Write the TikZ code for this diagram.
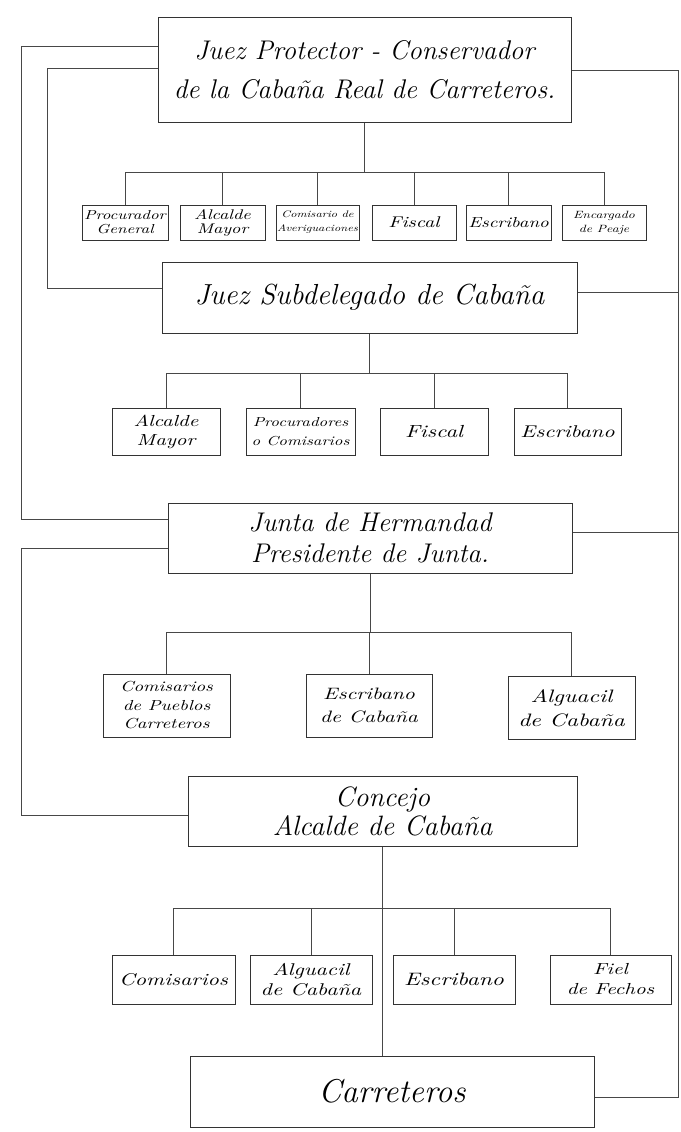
\documentclass[tikz,border=0pt]{standalone}
\usepackage{fontspec}
\newfontfamily\hs{lmroman10-italic}[Extension=.otf,FakeStretch=1.3]
\newcommand{\fs}[2]{\fontsize{#1}{#2}\selectfont}
\begin{document}
\begin{tikzpicture}[x=1pt,y=-1pt,
  bx/.style={draw=black!80,line width=1pt,fill=white,align=center,inner sep=1pt},
  ln/.style={draw=black!72,line width=0.8pt}]
\useasboundingbox[fill=white] (0,0) rectangle (680,1132);

% main boxes
\node[bx,font=\itshape\fs{27}{39},minimum width=413,minimum height=104] (B1) at (364.5,70)
  {Juez Protector - Conservador\\de la Cabaña Real de Carreteros.};
\node[bx,font=\itshape\fs{29}{30},minimum width=415,minimum height=71] (B2) at (369.5,297.5)
  {Juez Subdelegado de Cabaña};
\node[bx,font=\itshape\fs{27}{31},minimum width=404,minimum height=70] (B3) at (370,538)
  {Junta de Hermandad\\Presidente de Junta.};
\node[bx,font=\itshape\fs{28}{29},minimum width=389,minimum height=70] (B4) at (382.5,811)
  {Concejo\\Alcalde de Cabaña};
\node[bx,font=\itshape\fs{33}{36},minimum width=404,minimum height=71] (B5) at (392,1091.5)
  {Carreteros};

% row 1
\node[bx,font=\hs\fs{13}{14},minimum width=86,minimum height=35] (a1) at (125,222.5) {Procurador\\General};
\node[bx,font=\hs\fs{14}{14},minimum width=85,minimum height=35] (a2) at (222.5,222.5) {Alcalde\\Mayor};
\node[bx,font=\hs\fs{9.5}{14},minimum width=83,minimum height=35] (a3) at (317.5,222.5) {Comisario de\\Averiguaciones};
\node[bx,font=\hs\fs{15.5}{15},minimum width=84,minimum height=35] (a4) at (414,222.5) {Fiscal};
\node[bx,font=\hs\fs{14.5}{14},minimum width=85,minimum height=35] (a5) at (508.5,222.5) {Escribano};
\node[bx,font=\hs\fs{10.5}{14},minimum width=84,minimum height=35] (a6) at (604,222.5) {Encargado\\de Peaje};

% row 2
\node[bx,font=\hs\fs{16}{19},minimum width=108,minimum height=47] (b1) at (166,431.5) {Alcalde\\Mayor};
\node[bx,font=\hs\fs{13}{19},minimum width=109,minimum height=47] (b2) at (300.5,431.5) {Procuradores\\o Comisarios};
\node[bx,font=\hs\fs{17.5}{18},minimum width=108,minimum height=47] (b3) at (434,431.5) {Fiscal};
\node[bx,font=\hs\fs{17}{18},minimum width=107,minimum height=47] (b4) at (567.5,431.5) {Escribano};

% row 3
\node[bx,font=\hs\fs{14.5}{18.5},minimum width=127,minimum height=63] (c1) at (166.5,705.5) {Comisarios\\de Pueblos\\Carreteros};
\node[bx,font=\hs\fs{16.5}{23},minimum width=126,minimum height=63] (c2) at (369,705.5) {Escribano\\de Cabaña};
\node[bx,font=\hs\fs{18}{24},minimum width=127,minimum height=63] (c3) at (571.5,708) {Alguacil\\de Cabaña};

% row 4
\node[bx,font=\hs\fs{17}{18},minimum width=123,minimum height=49] (d1) at (173.5,979.5) {Comisarios};
\node[bx,font=\hs\fs{17}{20},minimum width=122,minimum height=49] (d2) at (311,979.5) {Alguacil\\de Cabaña};
\node[bx,font=\hs\fs{18}{18},minimum width=122,minimum height=49] (d3) at (454,979.5) {Escribano};
\node[bx,font=\hs\fs{16}{20},minimum width=121,minimum height=49] (d4) at (610.5,979.5) {Fiel\\de Fechos};

% junction levels
\coordinate (j1) at (0,172);
\coordinate (j2) at (0,373);
\coordinate (j3) at (0,632);
\coordinate (j4) at (0,908);

% tree 1
\draw[ln] (B1.south) -- (B1.south |- j1);
\draw[ln] (a1.north |- j1) -- (a6.north |- j1);
\foreach \n in {a1,a2,a3,a4,a5,a6} \draw[ln] (\n.north) -- (\n.north |- j1);
% tree 2
\draw[ln] (B2.south) -- (B2.south |- j2);
\draw[ln] (b1.north |- j2) -- (b4.north |- j2);
\foreach \n in {b1,b2,b3,b4} \draw[ln] (\n.north) -- (\n.north |- j2);
% tree 3
\draw[ln] (B3.south) -- (B3.south |- j3);
\draw[ln] (c1.north |- j3) -- (c3.north |- j3);
\foreach \n in {c1,c2,c3} \draw[ln] (\n.north) -- (\n.north |- j3);
% tree 4
\draw[ln] (B4.south) -- (B4.south |- B5.north);
\draw[ln] (d1.north |- j4) -- (d4.north |- j4);
\foreach \n in {d1,d2,d3,d4} \draw[ln] (\n.north) -- (\n.north |- j4);

% left rails
\coordinate (lA) at (21,0);
\coordinate (lB) at (47,0);
\coordinate (p1) at ([yshift=24]B1.west);
\coordinate (q1) at ([yshift=19]B3.west);
\draw[ln] (p1) -- (p1 -| lA) -- (q1 -| lA) -- (q1);
\coordinate (p2) at ([yshift=2]B1.west);
\coordinate (q2) at ([yshift=9.5]B2.west);
\draw[ln] (p2) -- (p2 -| lB) -- (q2 -| lB) -- (q2);
\coordinate (p3) at ([yshift=-10]B3.west);
\coordinate (q3) at ([yshift=-4]B4.west);
\draw[ln] (p3) -- (p3 -| lA) -- (q3 -| lA) -- (q3);

% right rail
\coordinate (rA) at (678,0);
\coordinate (r1) at (B1.east);
\coordinate (r2) at ([yshift=5.5]B2.east);
\coordinate (r3) at ([yshift=6]B3.east);
\coordinate (r5) at ([yshift=-5.5]B5.east);
\draw[ln] (r1) -- (r1 -| rA) -- (r5 -| rA) -- (r5);
\draw[ln] (r2) -- (r2 -| rA);
\draw[ln] (r3) -- (r3 -| rA);
\end{tikzpicture}
\end{document}
